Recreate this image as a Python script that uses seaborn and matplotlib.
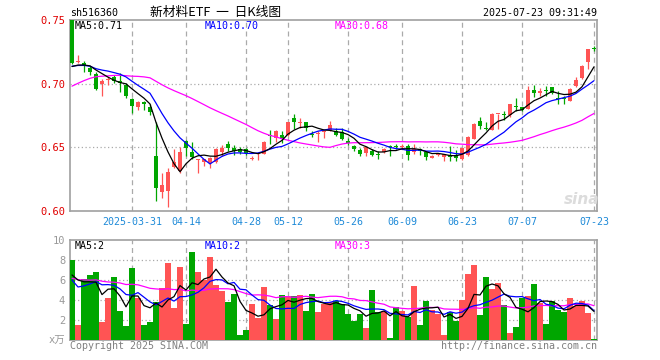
import numpy as np
import pandas as pd
import matplotlib
matplotlib.use("Agg")
import matplotlib.pyplot as plt
import seaborn as sns

# ---------------- data ----------------
tick_pos = [10, 19, 29, 36, 46, 55, 65, 75, 87]
tick_labels = ["2025-03-31", "04-14", "04-28", "05-12", "05-26", "06-09", "06-23", "07-07", "07-23"]

opens = [0.7500, 0.7170, 0.7160, 0.7123, 0.7072, 0.7000, 0.7025, 0.7055, 0.7024, 0.6987,
         0.6879, 0.6819, 0.6854, 0.6818, 0.6435, 0.6150, 0.6160, 0.6345, 0.6313, 0.6548,
         0.6460, 0.6398, 0.6388, 0.6380, 0.6385, 0.6460, 0.6529, 0.6495, 0.6487, 0.6484,
         0.6409, 0.6444, 0.6450, 0.6592, 0.6570, 0.6600, 0.6596, 0.6730, 0.6688, 0.6699,
         0.6605, 0.6604, 0.6621, 0.6638, 0.6626, 0.6620, 0.6548, 0.6513, 0.6480, 0.6455,
         0.6474, 0.6443, 0.6461, 0.6510, 0.6508, 0.6500, 0.6510, 0.6463, 0.6487, 0.6463,
         0.6416, 0.6443, 0.6422, 0.6437, 0.6443, 0.6406, 0.6437, 0.6568, 0.6704, 0.6648,
         0.6639, 0.6762, 0.6759, 0.6752, 0.6817, 0.6814, 0.6804, 0.6953, 0.6927, 0.6946,
         0.6971, 0.6881, 0.6881, 0.6867, 0.6979, 0.7045, 0.7170, 0.7273]
highs = [0.7500, 0.7225, 0.7176, 0.7140, 0.7090, 0.7033, 0.7055, 0.7071, 0.7084, 0.7005,
         0.6888, 0.6862, 0.6867, 0.6841, 0.6699, 0.6300, 0.6335, 0.6487, 0.6500, 0.6561,
         0.6545, 0.6406, 0.6412, 0.6428, 0.6492, 0.6519, 0.6551, 0.6519, 0.6500, 0.6492,
         0.6433, 0.6465, 0.6553, 0.6635, 0.6640, 0.6630, 0.6700, 0.6762, 0.6730, 0.6699,
         0.6626, 0.6626, 0.6631, 0.6704, 0.6652, 0.6652, 0.6573, 0.6521, 0.6497, 0.6513,
         0.6490, 0.6469, 0.6495, 0.6515, 0.6526, 0.6526, 0.6523, 0.6523, 0.6495, 0.6474,
         0.6443, 0.6458, 0.6448, 0.6508, 0.6482, 0.6492, 0.6587, 0.6691, 0.6738, 0.6699,
         0.6770, 0.6765, 0.6788, 0.6841, 0.6888, 0.6814, 0.6979, 0.6992, 0.6966, 0.6979,
         0.6971, 0.6945, 0.6901, 0.6966, 0.7050, 0.7149, 0.7272, 0.7295]
lows = [0.7155, 0.7160, 0.7088, 0.7066, 0.6948, 0.6900, 0.6992, 0.7005, 0.6935, 0.6888,
        0.6772, 0.6796, 0.6796, 0.6757, 0.6081, 0.6105, 0.6032, 0.6340, 0.6300, 0.6433,
        0.6406, 0.6300, 0.6353, 0.6340, 0.6380, 0.6433, 0.6471, 0.6438, 0.6447, 0.6438,
        0.6404, 0.6404, 0.6445, 0.6525, 0.6540, 0.6535, 0.6590, 0.6646, 0.6651, 0.6625,
        0.6581, 0.6540, 0.6574, 0.6626, 0.6587, 0.6555, 0.6516, 0.6471, 0.6432, 0.6432,
        0.6432, 0.6411, 0.6456, 0.6435, 0.6484, 0.6495, 0.6398, 0.6448, 0.6443, 0.6403,
        0.6416, 0.6432, 0.6396, 0.6396, 0.6396, 0.6398, 0.6430, 0.6568, 0.6647, 0.6639,
        0.6639, 0.6647, 0.6718, 0.6738, 0.6783, 0.6783, 0.6804, 0.6896, 0.6901, 0.6901,
        0.6919, 0.6841, 0.6841, 0.6862, 0.6971, 0.7039, 0.7115, 0.7254]
closes = [0.7163, 0.7177, 0.7144, 0.7095, 0.6957, 0.7022, 0.7039, 0.7022, 0.7005, 0.6905,
          0.6824, 0.6853, 0.6843, 0.6778, 0.6181, 0.6206, 0.6310, 0.6385, 0.6460, 0.6492,
          0.6425, 0.6406, 0.6412, 0.6420, 0.6487, 0.6492, 0.6497, 0.6468, 0.6465, 0.6455,
          0.6414, 0.6449, 0.6545, 0.6588, 0.6625, 0.6566, 0.6696, 0.6697, 0.6694, 0.6651,
          0.6594, 0.6613, 0.6630, 0.6678, 0.6600, 0.6562, 0.6532, 0.6483, 0.6446, 0.6505,
          0.6443, 0.6438, 0.6487, 0.6500, 0.6505, 0.6513, 0.6440, 0.6487, 0.6469, 0.6424,
          0.6435, 0.6448, 0.6448, 0.6422, 0.6416, 0.6492, 0.6579, 0.6684, 0.6665, 0.6646,
          0.6762, 0.6765, 0.6757, 0.6841, 0.6814, 0.6796, 0.6953, 0.6927, 0.6945, 0.6944,
          0.6927, 0.6879, 0.6878, 0.6958, 0.7026, 0.7136, 0.7272, 0.7270]
volumes = [8.0, 1.5, 6.1, 6.5, 6.8, 1.8, 4.2, 6.3, 2.9, 1.4,
           7.2, 4.2, 1.5, 1.8, 3.8, 5.2, 7.7, 3.2, 7.3, 1.6,
           8.8, 6.8, 6.0, 8.3, 5.5, 4.9, 3.8, 4.6, 0.5, 1.0,
           3.6, 2.2, 5.3, 3.5, 2.1, 4.5, 4.4, 4.4, 4.5, 2.9,
           4.6, 2.8, 3.6, 3.8, 3.9, 3.6, 2.6, 1.9, 2.6, 1.2,
           5.0, 2.8, 2.9, 0.2, 3.3, 2.9, 2.3, 5.4, 1.5, 3.9,
           3.0, 2.6, 0.5, 2.8, 1.9, 4.0, 6.6, 7.5, 2.5, 6.3,
           5.1, 5.7, 3.5, 0.7, 1.3, 4.2, 4.4, 5.6, 3.7, 1.6,
           3.9, 3.0, 2.8, 4.2, 3.4, 3.9, 2.7, 0.1]

# sessions before the visible window (only feed the start of the MA lines)
closes_before = [0.650, 0.652, 0.655, 0.658,
                 0.690, 0.695, 0.692, 0.698, 0.700, 0.694, 0.690, 0.696, 0.700,
                 0.700, 0.702, 0.705, 0.703, 0.706, 0.708, 0.710,
                 0.712, 0.714, 0.716, 0.715, 0.713,
                 0.712, 0.714, 0.713, 0.712]
volumes_before = [5.5, 6.8, 7.2, 6.0, 5.8, 6.5, 7.0, 5.2, 6.1, 6.4,
                  5.9, 6.6, 7.1, 5.7, 6.3, 6.0, 5.8, 6.6, 6.2, 6.3,
                  8.5, 5.0, 4.5, 4.5, 5.0,
                  4.0, 7.0, 6.5, 7.0]

# ---------------- styling ----------------
RED = "#ff5454"
GREEN = "#00a600"
GRID = "#aaaaaa"
SPINE = "#a0a0a0"
MONO = ["DejaVu Sans Mono", "Noto Sans CJK SC"]

sns.set_theme(style="white")
plt.rcParams["font.family"] = MONO

n = len(closes)
idx = np.arange(n)
o = np.array(opens); h = np.array(highs); l = np.array(lows); c = np.array(closes)
up = c >= o
cols = np.where(up, RED, GREEN)

def ma(series_before, series, w):
    s = pd.Series(list(series_before) + list(series))
    return s.rolling(w).mean().to_numpy()[len(series_before):]

W, H = 660, 360
fig = plt.figure(figsize=(W / 100, H / 100), dpi=100)
fig.patch.set_facecolor("white")

def fx(x): return x / W
def fy(y): return 1 - y / H

ax = fig.add_axes([fx(70), fy(211), fx(597) - fx(70), fy(20) - fy(211)])
axv = fig.add_axes([fx(70), fy(340), fx(597) - fx(70), fy(240) - fy(340)])

xlim = (-1 / 3, 87.5)

# candles
ax.vlines(idx, l, h, colors=cols, lw=0.9, zorder=3)
body_bot = np.minimum(o, c)
body_h = np.maximum(np.abs(c - o), 0.0008)
ax.bar(idx, body_h, bottom=body_bot, width=0.82, color=cols, lw=0, zorder=3)

# MA lines
for w, col in [(30, "#ff00ff"), (10, "#0000ff"), (5, "black")]:
    sns.lineplot(x=idx, y=ma(closes_before, closes, w), color=col, lw=0.9, ax=ax, zorder=4)

ax.set_xlim(*xlim)
ax.set_ylim(0.60, 0.75)
ax.set_xticks(tick_pos)
ax.set_xticklabels(tick_labels, color="#1e8ad8", fontsize=7.2)
ax.set_yticks([0.60, 0.65, 0.70, 0.75])
ax.set_yticklabels(["0.60", "0.65", "0.70", "0.75"], color="#e00000", fontsize=7.5)
ax.tick_params(axis="both", length=0)
ax.tick_params(axis="x", pad=4)
ax.tick_params(axis="y", pad=3.5)
ax.set_xlabel(""); ax.set_ylabel("")
for t in tick_pos:
    ax.axvline(t, color=GRID, lw=0.9, ls=(0, (4, 3)), zorder=1)
for yv in [0.65, 0.70]:
    ax.axhline(yv, color=GRID, lw=0.9, ls=(0, (1, 2)), zorder=1)

# volume bars
axv.bar(idx, volumes, width=0.85, color=cols, lw=0, zorder=3)
for w, col in [(30, "#ff00ff"), (10, "#0000ff"), (5, "black")]:
    sns.lineplot(x=idx, y=ma(volumes_before, volumes, w), color=col, lw=0.9, ax=axv, zorder=4)

axv.set_xlim(*xlim)
axv.set_ylim(0, 10)
axv.set_xticks(tick_pos)
axv.set_xticklabels([])
axv.set_yticks([0, 2, 4, 6, 8, 10])
axv.set_yticklabels(["x万", "2", "4", "6", "8", "10"], color="#999999", fontsize=7.5)
axv.tick_params(axis="both", length=0)
axv.tick_params(axis="y", pad=3.5)
axv.set_xlabel(""); axv.set_ylabel("")
for t in tick_pos:
    axv.axvline(t, color=GRID, lw=0.9, ls=(0, (4, 3)), zorder=1)
for yv in [2, 4, 6, 8]:
    axv.axhline(yv, color=GRID, lw=0.9, ls=(0, (1, 2)), zorder=1)

for a in (ax, axv):
    a.set_facecolor("white")
    for s in a.spines.values():
        s.set_visible(True)
        s.set_color(SPINE)
        s.set_linewidth(1.2)

# texts
def txt(x, y, s, ha="left", color="black", size=7.2, family=MONO, **kw):
    fig.text(fx(x), fy(y), s, ha=ha, va="center", color=color, fontsize=size,
             family=family, **kw)

txt(70, 13, "sh516360")
txt(216, 12, "新材料ETF  一  日K线图", ha="center", size=9.2,
    family=["Noto Sans CJK SC", "DejaVu Sans"])
txt(597, 13, "2025-07-23 09:31:49", ha="right")
txt(75, 26, "MA5:0.71")
txt(205, 26, "MA10:0.70", color="#0000ff")
txt(335, 26, "MA30:0.68", color="#ff00ff")
txt(75, 246, "MA5:2")
txt(205, 246, "MA10:2", color="#0000ff")
txt(335, 246, "MA30:3", color="#ff00ff")
txt(70, 346, "Copyright 2025 SINA.COM", color="#808080")
txt(597, 346, "http://finance.sina.com.cn", ha="right", color="#808080")
txt(582, 199, "sina", ha="center", color="#dcdcdc", size=11,
    family=["DejaVu Sans"], fontstyle="italic", fontweight="bold")

fig.savefig("out.png", dpi=100, facecolor="white")
